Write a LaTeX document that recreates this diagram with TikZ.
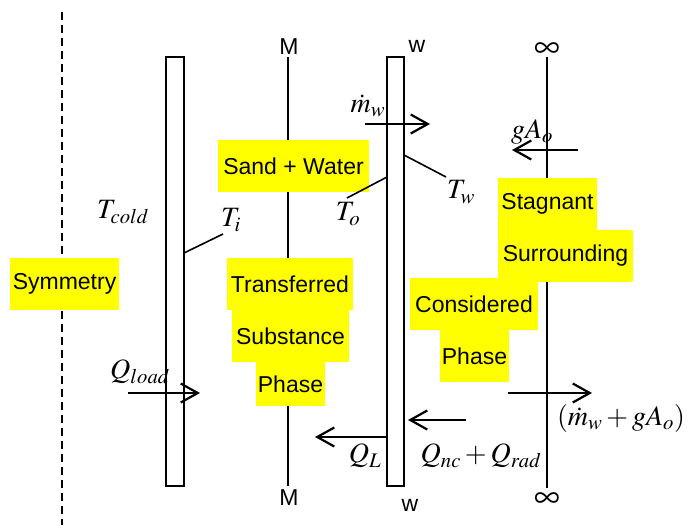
\documentclass[tikz,border=0pt]{standalone}
\usepackage{mathptmx}
\usepackage[no-math]{fontspec}
\setmainfont{Liberation Sans}
\usepackage{xcolor}
\usetikzlibrary{arrows.meta}
\definecolor{hiyellow}{RGB}{255,255,0}
\tikzset{
  hilite/.style={fill=hiyellow, inner sep=0pt, font=\fontsize{23}{26}\selectfont},
  flow/.style={line width=2.2pt, -{Straight Barb[length=17pt,width=19pt]}},
  wall/.style={line width=2pt, fill=white},
  eqn/.style={font=\fontsize{28}{32}\selectfont, inner sep=0pt},
  tag/.style={font=\fontsize{23}{26}\selectfont, inner sep=0pt},
}

\begin{document}
\begin{tikzpicture}[x=1pt, y=-1pt]
      \useasboundingbox (0,0) rectangle (691,531);
      % symmetry plane, walls and interfaces
      \draw[line width=1.8pt, dash pattern=on 8pt off 5pt] (62,12) -- (62,525);
      \draw[wall] (166,57) rectangle (184,486);
      \draw[line width=1.8pt] (288,57) -- (288,486);
      \draw[wall] (387,57) rectangle (404,486);
      \draw[line width=1.8pt] (547,57) -- (547,488);
      \node[tag] (mtop) at (289,47) {M};
      \node[tag] (mbot) at (289,498) {M};
      \node[tag] (wtop) at (417,46) {w};
      \node[tag] (wbot) at (410,505) {w};
      \node[eqn, font=\fontsize{36}{40}\selectfont] (inftop) at (547,50) {$\infty$};
      \node[eqn, font=\fontsize{36}{40}\selectfont] (infbot) at (547,500) {$\infty$};

      % highlighted region labels
      \node[hilite, minimum width=109, minimum height=52] (sym) at (64.5,284) {Symmetry};
      \node[hilite, minimum width=151, minimum height=52] (sandwater) at (293.5,166) {Sand + Water};
      \node[hilite, minimum width=126, minimum height=52] (transf) at (290,284) {Transferred};
      \node[hilite, minimum width=117, minimum height=52] (subst) at (290.5,336) {Substance};
      \node[hilite, minimum width=69, minimum height=44] (phasea) at (290.5,384) {Phase};
      \node[hilite, minimum width=99, minimum height=52] (stag) at (547.5,204) {Stagnant};
      \node[hilite, minimum width=135, minimum height=52] (surr) at (565.5,256) {Surrounding};
      \node[hilite, minimum width=128, minimum height=52] (consid) at (474,304) {Considered};
      \node[hilite, minimum width=69, minimum height=52] (phaseb) at (474.5,356) {Phase};

      % temperatures
      \node[eqn] (tcold) at (123,212) {$T_{cold}$};
      \node[eqn] (ti) at (231,220) {$T_i$};
      \node[eqn] (to) at (348,214) {$T_o$};
      \node[eqn] (tw) at (461,192) {$T_w$};
      \coordinate (tiwall) at (184,253);
      \coordinate (tiend) at (223,234);
      \coordinate (towall) at (387,177);
      \coordinate (toend) at (347,198);
      \coordinate (twwall) at (404,155);
      \coordinate (twend) at (446,177);
      \draw[line width=1.6pt] (tiwall) -- (tiend);
      \draw[line width=1.6pt] (towall) -- (toend);
      \draw[line width=1.6pt] (twwall) -- (twend);

      % flows
      \coordinate (mwa) at (365,124);
      \coordinate (mwb) at (430,124);
      \coordinate (gaa) at (578,150);
      \coordinate (gab) at (512,150);
      \coordinate (qla) at (128,393);
      \coordinate (qlb) at (200,393);
      \coordinate (qLa) at (387,437);
      \coordinate (qLb) at (315,437);
      \coordinate (qnca) at (466,420);
      \coordinate (qncb) at (408,420);
      \coordinate (outa) at (508,393);
      \coordinate (outb) at (592,393);
      \draw[flow] (mwa) -- (mwb);
      \draw[flow] (gaa) -- (gab);
      \draw[flow] (qla) -- (qlb);
      \draw[flow] (qLa) -- (qLb);
      \draw[flow] (qnca) -- (qncb);
      \draw[flow] (outa) -- (outb);
      \node[eqn] (mw) at (368,106) {$\dot m_w$};
      \node[eqn] (gao) at (532,132) {$gA_o$};
      \node[eqn] (qload) at (140,372) {$Q_{load}$};
      \node[eqn] (qL) at (365,456) {$Q_L$};
      \node[eqn] (qnc) at (481,456) {$Q_{nc}+Q_{rad}$};
      \node[eqn] (mout) at (621,418) {$\left(\dot m_w+gA_o\right)$};
\end{tikzpicture}
\end{document}
